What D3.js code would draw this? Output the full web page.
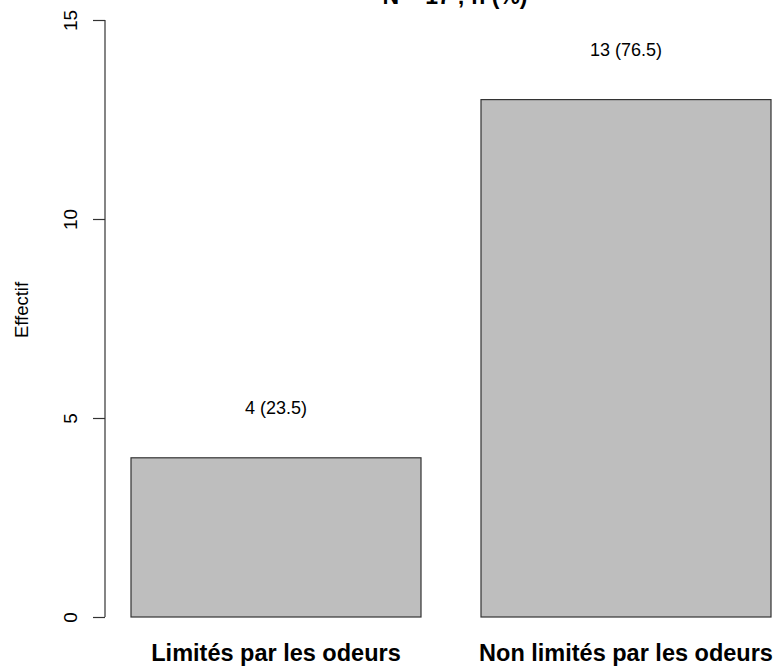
<!DOCTYPE html>
<html>
<head>
<meta charset="utf-8">
<script src="https://cdn.jsdelivr.net/npm/d3@7"></script>
<style>
  body { margin: 0; background: #fff; }
  svg { display: block; font-family: "Liberation Sans", Arial, Helvetica, sans-serif; }
</style>
</head>
<body>
<svg id="chart" width="776" height="669"></svg>
<script>
// data
var categories = ["Limités par les odeurs", "Non limités par les odeurs"];
var counts = [4, 13];
var percents = ["23.5", "76.5"];
var yTicks = [0, 5, 10, 15];
var title = "N = 17 ; n (%)";

var width = 776, height = 669;
var svg = d3.select("#chart");

var y = d3.scaleLinear()
    .domain([0, 15])
    .range([617, 20]);

var x = d3.scaleBand()
    .domain(categories)
    .range([131, 771])
    .paddingInner(60 / 350)
    .paddingOuter(0);

// title, mostly cut off at top (as in the original)
svg.append("text")
    .attr("x", 455)
    .attr("y", 4)
    .attr("text-anchor", "middle")
    .style("font-weight", "bold")
    .style("font-size", "23px")
    .text(title);

// bars
svg.append("g")
    .selectAll("rect")
    .data(counts)
    .join("rect")
    .attr("x", (d, i) => x(categories[i]))
    .attr("y", d => y(d))
    .attr("width", x.bandwidth())
    .attr("height", d => y(0) - y(d))
    .attr("fill", "#bebebe")
    .attr("stroke", "#333")
    .attr("stroke-width", 1.2);

// value labels
svg.append("g")
    .selectAll("text")
    .data(counts)
    .join("text")
    .attr("x", (d, i) => x(categories[i]) + x.bandwidth() / 2)
    .attr("y", d => y(d) - 44)
    .attr("text-anchor", "middle")
    .style("font-size", "18px")
    .text((d, i) => d + " (" + percents[i] + ")");

// category labels
svg.append("g")
    .selectAll("text")
    .data(categories)
    .join("text")
    .attr("x", d => x(d) + x.bandwidth() / 2)
    .attr("y", 661)
    .attr("text-anchor", "middle")
    .style("font-weight", "bold")
    .style("font-size", "23.5px")
    .text(d => d);

// y axis
var yAxis = d3.axisLeft(y)
    .tickValues(yTicks)
    .tickSize(12)
    .tickPadding(0);

var gy = svg.append("g")
    .attr("transform", "translate(105,0)")
    .call(yAxis);

gy.select(".domain")
    .attr("d", "M0," + y(15) + "V" + y(0))
    .attr("stroke", "#333")
    .attr("stroke-width", 1.2);
gy.selectAll(".tick line").attr("stroke", "#333").attr("stroke-width", 1.2);
gy.selectAll(".tick text")
    .attr("x", null)
    .attr("dy", null)
    .attr("transform", "translate(-35,0) rotate(-90)")
    .attr("text-anchor", "middle")
    .attr("dominant-baseline", "central")
    .style("font-size", "19px")
    .style("font-family", "Liberation Sans, Arial, sans-serif")
    .attr("fill", "#000");

// y title
svg.append("text")
    .attr("transform", "translate(28,310) rotate(-90)")
    .attr("text-anchor", "middle")
    .style("font-size", "18.5px")
    .text("Effectif");
</script>
</body>
</html>
